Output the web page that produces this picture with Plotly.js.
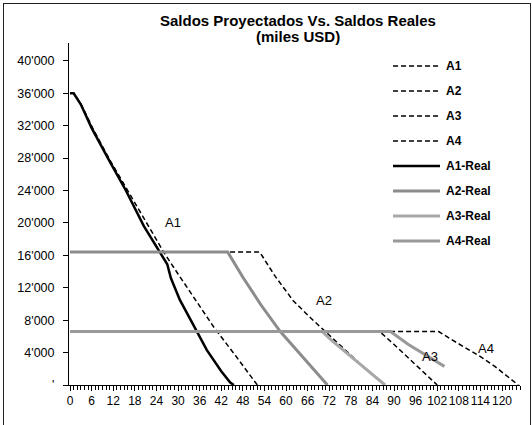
<!DOCTYPE html>
<html>
<head>
<meta charset="utf-8">
<script src="https://cdn.plot.ly/plotly-3.0.1.min.js"></script>
<style>
  html, body { margin: 0; padding: 0; background: #fff; }
  #wrap { position: relative; width: 532px; height: 425px; overflow: hidden; }
  #chart { position: absolute; left: 0; top: 0; width: 532px; height: 425px; }
  #frame { position: absolute; left: 3px; top: 3px; width: 526px; height: 440px; border: 1px solid #222; pointer-events: none; }
</style>
</head>
<body>
<div id="wrap"><div id="chart"></div><div id="frame"></div></div>
<script>
// ---- data ----
const a1X = [0, 1, 3, 6.5, 11, 16, 21, 26, 30, 34, 40, 46, 52];
const a1Y = [36000, 36000, 34700, 31500, 27800, 24000, 20100, 16400, 13700, 11000, 7100, 3600, 0];

const a2X = [0, 52.7, 57, 62, 67, 72, 77, 82, 87.5];
const a2Y = [16400, 16400, 13400, 10400, 8200, 6200, 4100, 2000, 0];

const a3X = [0, 86, 90, 94, 98, 102];
const a3Y = [6600, 6600, 5000, 3300, 1600, 0];

const a4X = [0, 102.4, 106, 110, 114, 118, 121, 124.5];
const a4Y = [6600, 6600, 5600, 4550, 3500, 2300, 1200, 0];

const a1RealX = [0, 1, 3, 6, 11, 15.5, 20.5, 25, 27, 28, 30.5, 34.5, 38, 42, 44.5, 45.5];
const a1RealY = [36000, 36000, 34600, 31700, 27600, 24000, 19600, 16300, 14900, 13200, 10500, 7200, 4300, 1700, 300, 0];

const a2RealX = [0, 43.8, 48, 53, 58.4, 63, 67, 71.5];
const a2RealY = [16400, 16400, 13300, 9900, 6600, 4300, 2300, 0];

const a3RealX = [0, 70, 72.5, 77, 82, 87, 87.5];
const a3RealY = [6600, 6600, 5570, 3900, 2000, 200, 0];

const a4RealX = [0, 89, 94, 99, 104];
const a4RealY = [6600, 6600, 5000, 3600, 2300];

const seriesNames = ['A1', 'A2', 'A3', 'A4', 'A1-Real', 'A2-Real', 'A3-Real', 'A4-Real'];

const xTickVals = [0, 6, 12, 18, 24, 30, 36, 42, 48, 54, 60, 66, 72, 78, 84, 90, 96, 102, 108, 114, 120];
const yTickVals = [0, 4000, 8000, 12000, 16000, 20000, 24000, 28000, 32000, 36000, 40000];
const yTickText = ["'", "4'000", "8'000", "12'000", "16'000", "20'000", "24'000", "28'000", "32'000", "36'000", "40'000"];

const titleLines = ['Saldos Proyectados Vs. Saldos Reales', '(miles USD)'];

const labelNames = ['A1', 'A2', 'A3', 'A4'];
const labelX = [28.7, 70.5, 100, 115.5];
const labelY = [20000, 10400, 3500, 4550];

// ---- styles / layout geometry (pixels) ----
const FONT = 'Liberation Sans, Arial, sans-serif';
const PL = 69, PR = 520, PT = 43, PB = 385;
const px2paperX = p => (p - PL) / (PR - PL);
const px2paperY = p => (PB - p) / (PB - PT);

const xs = [a1X, a2X, a3X, a4X, a1RealX, a2RealX, a3RealX, a4RealX];
const ys = [a1Y, a2Y, a3Y, a4Y, a1RealY, a2RealY, a3RealY, a4RealY];
const DASH = '5px,3px';
const lineStyles = [
  {color: '#000', width: 1.5, dash: DASH},
  {color: '#000', width: 1.5, dash: DASH},
  {color: '#000', width: 1.5, dash: DASH},
  {color: '#000', width: 1.5, dash: DASH},
  {color: '#000', width: 2.5, dash: 'solid'},
  {color: '#8c8c8c', width: 3, dash: 'solid'},
  {color: '#a8a8a8', width: 3, dash: 'solid'},
  {color: '#999999', width: 3, dash: 'solid'}
];

const traces = seriesNames.map((n, i) => ({
  type: 'scatter', mode: 'lines', name: n,
  x: xs[i], y: ys[i],
  line: lineStyles[i],
  hoverinfo: 'skip', showlegend: false
}));

const annotations = labelNames.map((t, i) => ({
  x: labelX[i], y: labelY[i], xref: 'x', yref: 'y',
  text: t, showarrow: false,
  font: {family: FONT, size: 13, color: '#000'}
}));

// chart title: two centred bold lines
const titleYpx = [21, 36];
titleLines.forEach((t, i) => {
  annotations.push({
    x: px2paperX(298), xref: 'paper', xanchor: 'center',
    y: px2paperY(titleYpx[i]), yref: 'paper', yanchor: 'middle',
    text: '<b>' + t + '</b>', showarrow: false,
    font: {family: FONT, size: 15, color: '#000'}
  });
});

// legend drawn by hand so the line samples can be as long as in the reference
const shapes = [];
const legTop = 66, legStep = 25, legX0 = 393, legX1 = 440, legTextX = 444;
seriesNames.forEach((n, i) => {
  const yy = px2paperY(legTop + i * legStep);
  shapes.push({
    type: 'line', xref: 'paper', yref: 'paper',
    x0: px2paperX(legX0), x1: px2paperX(legX1), y0: yy, y1: yy,
    line: {color: lineStyles[i].color, width: lineStyles[i].width, dash: lineStyles[i].dash}
  });
  annotations.push({
    x: px2paperX(legTextX), xref: 'paper', xanchor: 'left',
    y: yy, yref: 'paper', yanchor: 'middle',
    text: '<b>' + n + '</b>', showarrow: false,
    font: {family: FONT, size: 12, color: '#000'}
  });
});

const layout = {
  width: 532, height: 425,
  margin: {l: PL, r: 532 - PR, t: PT, b: 425 - PB, pad: 0},
  paper_bgcolor: '#fff', plot_bgcolor: '#fff',
  showlegend: false,
  xaxis: {
    range: [-0.3, 125], showgrid: false, zeroline: false,
    showline: true, linecolor: '#000', linewidth: 1,
    tickvals: xTickVals, ticks: 'outside', ticklen: 5, tickcolor: '#000',
    tickangle: 0,
    minor: {dtick: 1, tick0: 0, ticks: 'outside', ticklen: 4, tickcolor: '#000', showgrid: false},
    tickfont: {family: FONT, size: 12, color: '#000'}
  },
  yaxis: {
    range: [0, 42200], showgrid: false, zeroline: false,
    showline: true, linecolor: '#000', linewidth: 1,
    tickvals: yTickVals, ticktext: yTickText,
    ticks: 'outside', ticklen: 5, tickcolor: '#000', ticklabelstandoff: 6,
    tickfont: {family: FONT, size: 12.5, color: '#000'}
  },
  shapes: shapes,
  annotations: annotations
};

Plotly.newPlot('chart', traces, layout, {staticPlot: true, displayModeBar: false});
</script>
</body>
</html>
